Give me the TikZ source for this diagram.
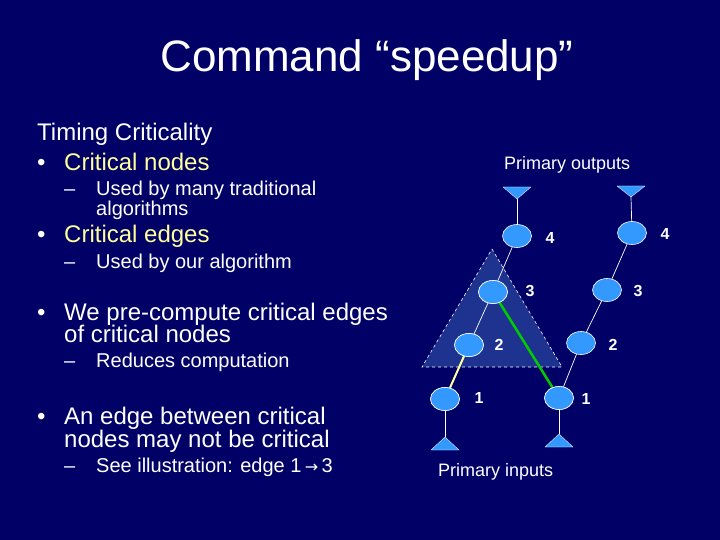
\documentclass[tikz,border=0pt]{standalone}
\usepackage{fontspec}
\setmainfont{Liberation Sans}
\usetikzlibrary{shapes.geometric}
\begin{document}
\begin{tikzpicture}[x=1pt,y=-1pt,
  txt/.style={anchor=base west,inner sep=0pt,text=white,font=\fontsize{24}{28}\selectfont},
  sub/.style={anchor=base west,inner sep=0pt,text=white,font=\fontsize{20}{24}\selectfont},
  yel/.style={txt,text=yellowish},
  gate/.style={ellipse,draw=white,fill=nodeblue,minimum width=29pt,minimum height=23pt,inner sep=0pt,line width=0.6pt},
  num/.style={text=white,font=\bfseries\fontsize{16}{18}\selectfont,inner sep=0pt},
  wire/.style={white,line width=0.7pt},
  tri/.style={fill=nodeblue,draw=white,line width=0.3pt}]
\definecolor{bg}{HTML}{000066}
\definecolor{nodeblue}{HTML}{3399FF}
\definecolor{yellowish}{HTML}{FFFF99}
\definecolor{tfill}{HTML}{1E3390}
\useasboundingbox[fill=bg] (0,0) rectangle (720,540);
\node[anchor=base,inner sep=0pt,text=white,font=\fontsize{44}{48}\selectfont] (title) at (367,72) {Command “speedup”};
\node[txt] (t1) at (37,141) {Timing Criticality};
\node[txt] (b1) at (37,171) {•};
\node[yel] (t2) at (64,171) {Critical nodes};
\node[sub] (d1) at (64,196) {–};
\node[sub] (t3) at (96,196) {Used by many traditional};
\node[sub] (t4) at (96,215) {algorithms};
\node[txt] (b2) at (37,243) {•};
\node[yel] (t5) at (64,243) {Critical edges};
\node[sub] (d2) at (64,268) {–};
\node[sub] (t6) at (96,268) {Used by our algorithm};
\node[txt] (b3) at (37,320) {•};
\node[txt] (t7) at (64,320) {We pre-compute critical edges};
\node[txt] (t8) at (64,342) {of critical nodes};
\node[sub] (d3) at (64,367) {–};
\node[sub] (t9) at (96,367) {Reduces computation};
\node[txt] (b4) at (37,424) {•};
\node[txt] (t10) at (64,424) {An edge between critical};
\node[txt] (t11) at (64,447) {nodes may not be critical};
\node[sub] (d4) at (64,472) {–};
\node[sub] (t12) at (96,472) {See illustration: edge 1\,{\fontspec{DejaVu Sans}\fontsize{16}{18}\selectfont→}\,3};
\node[anchor=base west,inner sep=0pt,text=white,font=\fontsize{18}{20}\selectfont] (po) at (504,170) {Primary outputs};
\node[anchor=base west,inner sep=0pt,text=white,font=\fontsize{18}{20}\selectfont] (pi) at (438,476) {Primary inputs};
% cone
\draw[fill=tfill,draw=white,dashed,line width=0.6pt] (492,249) -- (562,367) -- (422,367) -- cycle;
% gates
\node[gate] (l4) at (517,236) {};
\node[gate] (l3) at (493,292) {};
\node[gate] (l2) at (469,345) {};
\node[gate] (l1) at (445,399) {};
\node[gate] (r4) at (632,233) {};
\node[gate] (r3) at (607,290) {};
\node[gate] (r2) at (581,343) {};
\node[gate] (r1) at (559,398) {};
% terminals
\coordinate (lo) at (517,199);
\coordinate (ro) at (631,197);
\coordinate (li) at (445,437);
\coordinate (ri) at (559,434);
\draw[tri] (503,187) -- (531,187) -- (lo) -- cycle;
\draw[tri] (617,186) -- (645,186) -- (ro) -- cycle;
\draw[tri] (431,450) -- (459,450) -- (li) -- cycle;
\draw[tri] (545,447) -- (573,447) -- (ri) -- cycle;
% wires
\draw[wire] (lo) -- (l4);
\draw[wire] (ro) -- (r4);
\draw[wire] (l1) -- (li);
\draw[wire] (r1) -- (ri);
\draw[wire] (l4) -- (l3);
\draw[wire] (l3) -- (l2);
\draw[wire] (r1) -- (r2);
\draw[wire] (r2) -- (r3);
\draw[wire] (r3) -- (r4);
\draw[yellowish,line width=2pt] (l1) -- (l2);
\draw[green!80!black,line width=2.5pt] (l3) -- (r1);
\node[gate] at (l1) {};
\node[gate] at (l2) {};
\node[gate] at (l3) {};
\node[gate] at (r1) {};
% labels
\node[num] (n1) at (550,238) {4};
\node[num] (n2) at (665,234) {4};
\node[num] (n3) at (530,291) {3};
\node[num] (n4) at (638,291) {3};
\node[num] (n5) at (499,345) {2};
\node[num] (n6) at (613,345) {2};
\node[num] (n7) at (479,398) {1};
\node[num] (n8) at (586,399) {1};
\end{tikzpicture}
\end{document}
